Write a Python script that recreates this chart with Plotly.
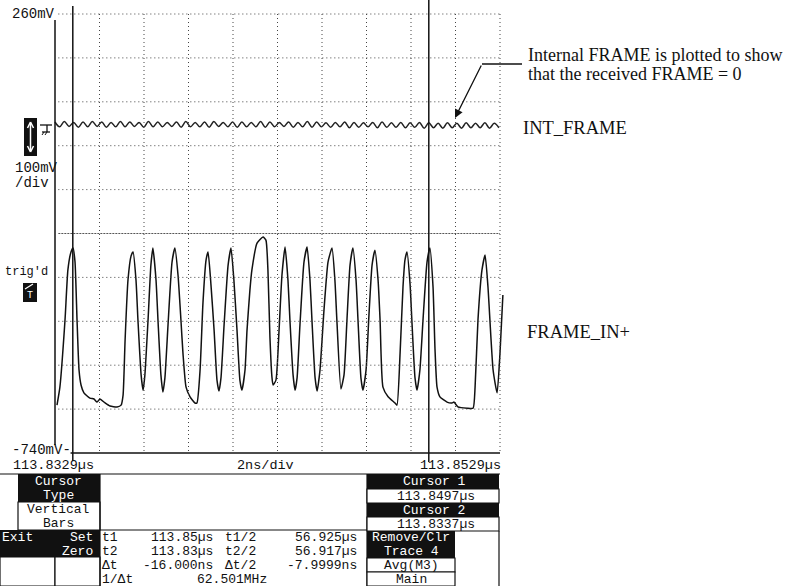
import plotly.graph_objects as go

W, H = 791, 586

# ---- scope settings (time in ns after the left screen edge, volts in mV) ----
t_left_us = 113.8329
t_right_us = 113.8529
cursor1_us = 113.8497
cursor2_us = 113.8337
ns_per_div = 2
mv_per_div = 100
v_top = 260
v_bottom = -740

# FRAME_IN+ trace
frame_t = [
    0.09, 0.22, 0.45, 0.58, 0.72, 0.81, 0.90, 0.99, 1.08, 1.17, 1.30, 1.57, 1.75, 1.89, 2.02, 2.25,
    2.47, 2.79, 2.97, 3.06, 3.15, 3.28, 3.42, 3.51,
    3.64, 3.73, 3.87, 3.96, 4.04, 4.18, 4.31, 4.40, 4.54, 4.63, 4.76, 4.85, 4.94, 5.08, 5.26, 5.39,
    5.53, 5.66, 5.75, 5.89, 6.07, 6.29, 6.38, 6.52, 6.65, 6.79, 6.88,
    7.01, 7.15, 7.28, 7.37, 7.46, 7.60, 7.78, 7.91, 8.04, 8.18, 8.31, 8.40, 8.54, 8.63, 8.76, 8.85,
    9.08, 9.35, 9.48, 9.57, 9.66, 9.75, 9.80, 9.93, 10.07, 10.20, 10.34, 10.47, 10.56, 10.70, 10.79,
    10.88, 11.01, 11.19, 11.33,
    11.46, 11.55, 11.69, 11.78, 11.91, 12.09, 12.27, 12.45, 12.58, 12.67, 12.85, 12.99, 13.12, 13.26,
    13.39, 13.53, 13.62, 13.75, 13.84, 13.98, 14.11, 14.25, 14.38, 14.52, 14.61, 14.74, 14.97, 15.28,
    15.37, 15.51, 15.64, 15.73, 15.82,
    15.96, 16.04, 16.18, 16.27, 16.40, 16.54, 16.72, 16.85, 16.99, 17.08, 17.17, 17.30, 17.62, 17.84,
    17.93, 18.11, 18.52, 18.79, 18.88, 19.01, 19.19, 19.33, 19.46, 19.69, 19.87, 20.00, 20.13,
]
frame_v = [
    -631, -590, -437, -323, -282, -273, -305, -437, -551, -585, -603, -615, -617, -624, -617, -626,
    -633, -635, -631, -608, -483, -346, -291, -282,
    -346, -439, -562, -597, -562, -439, -312, -273, -346, -439, -562, -601, -569, -448, -305, -273,
    -335, -437, -512, -590, -612, -626, -626, -551, -398, -300, -282,
    -357, -460, -574, -599, -569, -448, -312, -273, -346, -460, -574, -597, -551, -460, -369, -323,
    -262, -248, -255, -323, -476, -567, -585, -574, -460, -335, -271, -346, -439, -562, -597,
    -569, -448, -305, -271,
    -346, -439, -569, -599, -551, -414, -305, -273, -346, -439, -594, -562, -439, -312,
    -273, -346, -439, -569, -597, -551, -426, -312, -278, -346, -437, -590, -612, -626,
    -631, -512, -362, -300, -282,
    -357, -439, -569, -597, -551, -437, -305, -273, -362, -505, -590, -612, -624, -626,
    -624, -635, -638, -638, -590, -437, -323, -289, -362, -551, -603, -512, -380,
]

# INT_FRAME trace (small ripple around 0 V)
int_t = [
    0.00, 0.21, 0.42, 0.63, 0.84, 1.05, 1.26, 1.47, 1.68, 1.89, 2.10, 2.31, 2.52, 2.73, 2.94, 3.15,
    3.36, 3.57, 3.78, 3.99, 4.20, 4.41, 4.62, 4.83, 5.04, 5.25, 5.46, 5.67, 5.88, 6.09, 6.30, 6.51,
    6.72, 6.93, 7.14, 7.35, 7.56, 7.77, 7.98, 8.19, 8.40, 8.61, 8.82, 9.03, 9.24, 9.45, 9.66, 9.87,
    10.08, 10.29, 10.50, 10.71, 10.92, 11.13, 11.34, 11.55, 11.76, 11.97, 12.18, 12.39, 12.60, 12.81,
    13.02, 13.23, 13.44, 13.65, 13.86, 14.07, 14.28, 14.49, 14.70, 14.91, 15.12, 15.33, 15.54, 15.75,
    15.96, 16.17, 16.38, 16.59, 16.80, 17.01, 17.22, 17.43, 17.64, 17.85, 18.06, 18.27, 18.48, 18.69,
    18.90, 19.11, 19.32, 19.53, 19.74, 19.95,
]
int_v = [
    14, 3, 15, 4, 13, 2, 14, 3, 15, 4,
    14, 2, 13, 3, 15, 3, 14, 4, 13, 2,
    15, 3, 14, 3, 13, 4, 14, 2, 15, 3,
    13, 3, 14, 2, 15, 4, 13, 3, 14, 2,
    14, 3, 13, 3, 15, 2, 14, 3, 13, 4,
    14, 2, 13, 3, 15, 2, 14, 3, 12, 2,
    13, 3, 14, 1, 13, 2, 12, 3, 13, 1,
    14, 2, 12, 2, 13, 1, 12, 2, 13, 0,
    12, 1, 11, 0, 12, 1, 11, 0, 12, 1,
    11, 1, 12, 0, 11, 1,
]

# ---- screen geometry (pixels) ----
GX0, GX1 = 55, 500      # graticule left / right
GY0, GY1 = 14, 453      # graticule top / bottom
span_ns = (t_right_us - t_left_us) * 1000
n_xdiv = round(span_ns / ns_per_div)
n_ydiv = round((v_top - v_bottom) / mv_per_div)
ns_per_px = span_ns / (GX1 - GX0)
mv_per_px = (v_top - v_bottom) / (GY1 - GY0)
x_range = [-GX0 * ns_per_px, span_ns + (W - GX1) * ns_per_px]
y_range = [v_bottom - (H - GY1) * mv_per_px, v_top + GY0 * mv_per_px]


def vy(py):
    """mV value at a pixel row."""
    return v_top - (py - GY0) * mv_per_px


def px(x):
    return x / W


def py(y):
    return 1 - y / H


MONO = "Liberation Mono"
SERIF = "Liberation Serif"
shapes = []
annotations = []

GRID = dict(color="#444", width=1, dash="1px,3px")

# graticule
for k in range(1, n_xdiv + 1):
    t = k * ns_per_div
    shapes.append(dict(type="line", xref="x", yref="y", x0=t, x1=t, y0=v_top, y1=v_bottom, line=GRID))
for k in range(0, n_ydiv):
    v = v_top - k * mv_per_div
    ln = GRID
    if v == -240:
        ln = dict(color="#555", width=1, dash="2px,1px")
    shapes.append(dict(type="line", xref="x", yref="y", x0=0.15, x1=span_ns, y0=v, y1=v, line=ln))
# solid left edge and bottom edge
shapes.append(dict(type="line", xref="x", yref="y", x0=0, x1=0, y0=vy(20), y1=vy(445),
                   line=dict(color="#111", width=1.5)))
shapes.append(dict(type="line", xref="x", yref="y", x0=0.7, x1=span_ns, y0=v_bottom, y1=v_bottom,
                   line=dict(color="#111", width=1.5)))

# cursors
c1 = (cursor1_us - t_left_us) * 1000
c2 = (cursor2_us - t_left_us) * 1000
shapes.append(dict(type="line", xref="x", yref="y", x0=c1, x1=c1, y0=vy(0), y1=vy(462),
                   line=dict(color="#111", width=1.5)))
shapes.append(dict(type="line", xref="x", yref="y", x0=c2, x1=c2, y0=vy(6), y1=vy(461),
                   line=dict(color="#111", width=1.5)))


def rect(x0, y0, x1, y1, fill="white", border=None, bw=1.2):
    shapes.append(dict(type="rect", xref="paper", yref="paper",
                       x0=px(x0), x1=px(x1), y0=py(y1), y1=py(y0),
                       fillcolor=fill, line=dict(color=border or fill, width=bw if border else 0)))


def seg(x0, y0, x1, y1, color="#111", width=1.2):
    shapes.append(dict(type="line", xref="paper", yref="paper",
                       x0=px(x0), x1=px(x1), y0=py(y0), y1=py(y1),
                       line=dict(color=color, width=width)))


def txt(s, x, y, anchor="left", color="#111", size=14, family=MONO):
    annotations.append(dict(text=s, x=px(x), y=py(y), xref="paper", yref="paper",
                            xanchor=anchor, yanchor="middle", showarrow=False, borderpad=0,
                            font=dict(family=family, size=size, color=color)))


TS = 13  # table text size

# left-side channel labels
txt(f"{v_top}mV", 56, 14, "right")
txt(f"{v_bottom}mV-", 72, 450, "right")
txt(f"{mv_per_div}mV", 14, 168)
txt("/div", 14, 183)
txt("trig'd", 4, 272, size=12)

# channel marker with double arrow
rect(24, 118, 37, 156, fill="#111")
seg(30.5, 123, 30.5, 151, color="white", width=1.5)
seg(30.5, 122, 27.5, 128, color="white", width=1.5)
seg(30.5, 122, 33.5, 128, color="white", width=1.5)
seg(30.5, 152, 27.5, 146, color="white", width=1.5)
seg(30.5, 152, 33.5, 146, color="white", width=1.5)
# ground reference symbol
seg(40, 125, 52, 125, width=1.3)
seg(47, 125, 47, 132, width=1.3)
seg(42, 132, 50, 132, width=1.3)
seg(42, 135, 44, 132, width=1)
seg(45, 135, 47, 132, width=1)

# trigger marker
rect(23, 283, 37, 302, fill="#111")
txt("T", 30, 295, "center", color="white", size=10)
seg(25, 289, 33, 284, color="white", width=1.2)

# time row under the graticule
txt(f"{t_left_us:.4f}µs", 12, 466, size=13.5)
txt(f"{ns_per_div}ns/div", 265, 466, "center", size=13.5)
txt(f"{t_right_us:.4f}µs", 502, 466, "right", size=13.5)

# softkey / readout table
seg(0, 474, 500, 474)
rect(18, 474, 100, 502, fill="#111")
txt("Cursor", 59, 481.5, "center", color="white", size=TS)
txt("Type", 59, 495.5, "center", color="white", size=TS)
rect(18, 502, 100, 530, border="#111")
txt("Vertical", 58, 509.5, "center", size=TS)
txt("Bars", 58, 523.5, "center", size=TS)
rect(0, 530, 100, 557, fill="#111")
txt("Exit", 1, 537.5, color="white", size=TS)
txt("Set", 94, 537.5, "right", color="white", size=TS)
txt("Zero", 94, 551.5, "right", color="white", size=TS)
rect(0, 557, 55, 586, border="#111")
rect(55, 557, 100, 586, border="#111")
seg(100, 474, 100, 586)
seg(367, 474, 367, 586)
seg(100, 530, 367, 530)

rows = [537, 551, 565, 579]
txt("t1", 101, rows[0], size=TS)
txt("113.85µs", 214, rows[0], "right", size=TS)
txt("t1/2", 224, rows[0], size=TS)
txt("56.925µs", 358, rows[0], "right", size=TS)
txt("t2", 101, rows[1], size=TS)
txt("113.83µs", 214, rows[1], "right", size=TS)
txt("t2/2", 224, rows[1], size=TS)
txt("56.917µs", 358, rows[1], "right", size=TS)
txt("Δt", 101, rows[2], size=TS)
txt("-16.000ns", 214, rows[2], "right", size=TS)
txt("Δt/2", 224, rows[2], size=TS)
txt("-7.9999ns", 358, rows[2], "right", size=TS)
txt("1/Δt", 101, rows[3], size=TS)
txt("62.501MHz", 268, rows[3], "right", size=TS)

rect(367, 474, 499, 489, fill="#111")
txt("Cursor 1", 434, 481.5, "center", color="white", size=TS)
rect(367, 489, 499, 503, border="#111")
txt(f"{cursor1_us:.4f}µs", 436, 496.5, "center", size=TS)
rect(367, 503, 499, 517, fill="#111")
txt("Cursor 2", 434, 510.5, "center", color="white", size=TS)
rect(367, 517, 499, 531, border="#111")
txt(f"{cursor2_us:.4f}µs", 436, 524.5, "center", size=TS)
rect(367, 531, 455, 544, fill="#111")
txt("Remove/Clr", 411, 537.5, "center", color="white", size=TS)
rect(367, 544, 455, 558, fill="#111")
txt("Trace 4", 411, 551.5, "center", color="white", size=TS)
rect(367, 558, 455, 572, border="#111")
txt("Avg(M3)", 411, 565.5, "center", size=TS)
rect(367, 572, 455, 586, border="#111")
txt("Main", 411, 579.5, "center", size=TS)
seg(499, 531, 499, 586)

# explanatory labels
txt("Internal FRAME is plotted to show", 527, 55, family=SERIF, size=18)
txt("that the received FRAME = 0", 527, 74, family=SERIF, size=18)
txt("INT_FRAME", 522, 128, family=SERIF, size=18.5)
txt("FRAME_IN+", 526, 332, family=SERIF, size=18.5)
seg(482, 64, 522, 64, width=1.3)
annotations.append(dict(x=px(455), y=py(118), xref="paper", yref="paper", text="",
                        showarrow=True, ax=482 - 455, ay=64 - 118, axref="pixel", ayref="pixel",
                        arrowhead=2, arrowsize=1.3, arrowwidth=1.3, arrowcolor="#111"))

fig = go.Figure()
fig.add_trace(go.Scatter(x=int_t, y=int_v, mode="lines",
                         line=dict(color="#222", width=1.5, shape="spline", smoothing=1),
                         hoverinfo="skip"))
fig.add_trace(go.Scatter(x=frame_t, y=frame_v, mode="lines",
                         line=dict(color="#111", width=1.5, shape="spline", smoothing=0.5),
                         hoverinfo="skip"))

fig.update_layout(
    width=W, height=H, autosize=False,
    margin=dict(l=0, r=0, t=0, b=0),
    paper_bgcolor="white", plot_bgcolor="white",
    showlegend=False,
    xaxis=dict(range=x_range, visible=False, fixedrange=True),
    yaxis=dict(range=y_range, visible=False, fixedrange=True),
    shapes=shapes, annotations=annotations,
)
fig.write_html("out.html")
